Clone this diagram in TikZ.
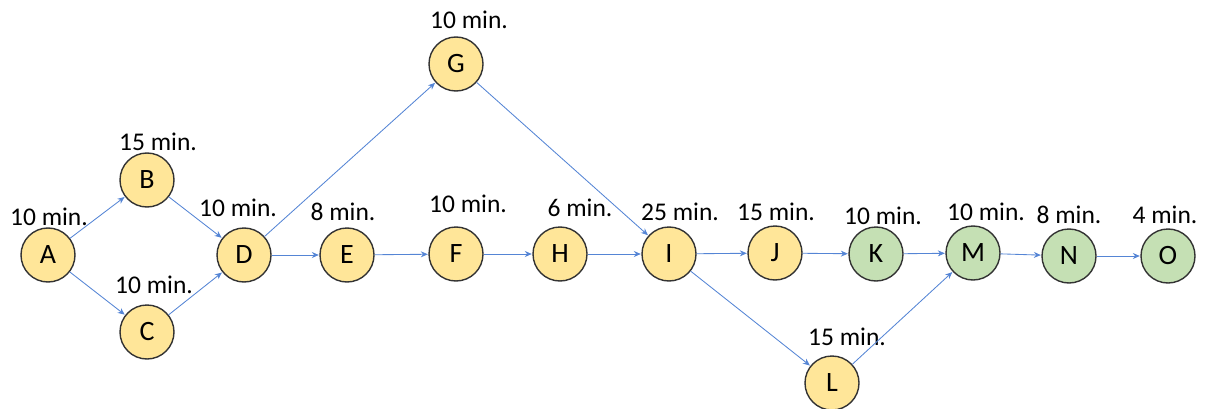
\documentclass[tikz,border=0pt]{standalone}
\usepackage{fontspec}
\setmainfont{Carlito}
\usetikzlibrary{arrows.meta}
\definecolor{taskyellow}{HTML}{FFE699}
\definecolor{taskgreen}{HTML}{C5E0B4}
\definecolor{linkblue}{HTML}{5585D5}
\tikzset{
  task/.style={circle, draw=black!80, line width=1.4pt, minimum size=54pt, inner sep=0pt, font=\fontsize{28}{30}\selectfont},
  ytask/.style={task, fill=taskyellow},
  gtask/.style={task, fill=taskgreen},
  dur/.style={font=\fontsize{25.5}{27}\selectfont, inner sep=0pt},
  link/.style={draw=linkblue, line width=0.85pt, -{Stealth[length=7pt,width=6pt]}, shorten >=0.5pt}
}
\begin{document}
\begin{tikzpicture}[x=1pt,y=-1pt]
\useasboundingbox (0,0) rectangle (1214,409);
% activity nodes
\node[ytask] (A) at (48,255) {A};
\node[ytask] (B) at (147,180) {B};
\node[ytask] (C) at (147,332) {C};
\node[ytask] (D) at (244,255) {D};
\node[ytask] (E) at (347,255) {E};
\node[ytask] (F) at (456,254) {F};
\node[ytask] (G) at (456,64) {G};
\node[ytask] (H) at (560,254) {H};
\node[ytask] (I) at (669,254) {I};
\node[ytask] (J) at (775,253) {J};
\node[gtask] (K) at (876,254) {K};
\node[gtask] (M) at (973,253) {M};
\node[gtask] (N) at (1069,256) {N};
\node[gtask] (O) at (1168,256) {O};
\node[ytask] (L) at (832,383) {L};
% durations
\node[dur] (tA) at (49,217) {10 min.};
\node[dur] (tB) at (158,142) {15 min.};
\node[dur] (tC) at (154,285) {10 min.};
\node[dur] (tD) at (238,208) {10 min.};
\node[dur] (tE) at (343,212) {8 min.};
\node[dur] (tF) at (468,204) {10 min.};
\node[dur] (tG) at (469,20) {10 min.};
\node[dur] (tH) at (580,208) {6 min.};
\node[dur] (tI) at (680,212) {25 min.};
\node[dur] (tJ) at (776,212) {15 min.};
\node[dur] (tK) at (883,216) {10 min.};
\node[dur] (tM) at (986,212) {10 min.};
\node[dur] (tN) at (1069,215) {8 min.};
\node[dur] (tO) at (1165,215) {4 min.};
\node[dur] (tL) at (847,337) {15 min.};
% precedence links
\draw[link] (A) -- (B);
\draw[link] (A) -- (C);
\draw[link] (B) -- (D);
\draw[link] (C) -- (D);
\draw[link] (D) -- (G);
\draw[link] (D) -- (E);
\draw[link] (E) -- (F);
\draw[link] (F) -- (H);
\draw[link] (G) -- (I);
\draw[link] (H) -- (I);
\draw[link] (I) -- (J);
\draw[link] (I) -- (L);
\draw[link] (J) -- (K);
\draw[link] (K) -- (M);
\draw[link] (L) -- (M);
\draw[link] (M) -- (N);
\draw[link] (N) -- (O);
\end{tikzpicture}
\end{document}
